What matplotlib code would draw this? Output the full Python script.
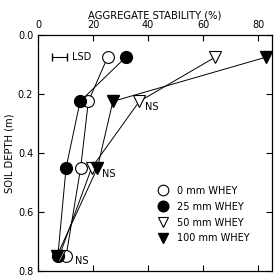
import matplotlib
matplotlib.use('Agg')
import matplotlib.pyplot as plt

# Data
depth = [0.075, 0.225, 0.45, 0.75]
whey_0 = [25.3, 18.3, 15.5, 10.2]
whey_25 = [31.9, 15.3, 10.2, 7.2]
whey_50 = [64.4, 36.8, 19.5, 7.7]
whey_100 = [82.9, 27.2, 21.6, 6.8]

xticks = [0, 20, 40, 60, 80]
yticks = [0.0, 0.2, 0.4, 0.6, 0.8]

plt.rcParams['font.family'] = 'DejaVu Sans'
fig = plt.figure(figsize=(2.76, 2.76), dpi=100)
ax = fig.add_axes([38 / 276, 5 / 276, 234 / 276, 236 / 276])

ms = 8.5
lw = 0.7
ax.plot(whey_0, depth, 'o-', color='black', mfc='white', mec='black', ms=ms, lw=lw, mew=0.8,
        label='0 mm WHEY', zorder=3)
ax.plot(whey_25, depth, 'o-', color='black', mfc='black', ms=ms, lw=lw,
        label='25 mm WHEY', zorder=3)
ax.plot(whey_50, depth, 'v-', color='black', mfc='white', mec='black', ms=ms, lw=lw, mew=0.8,
        label='50 mm WHEY', zorder=3)
ax.plot(whey_100, depth, 'v-', color='black', mfc='black', ms=ms, lw=lw,
        label='100 mm WHEY', zorder=3)

# LSD bar
ax.errorbar([7.8], [0.075], xerr=[2.6], fmt='none', ecolor='black', elinewidth=0.8, capsize=3)
ax.text(12.3, 0.075, 'LSD', fontsize=7, va='center', ha='left')

# NS labels
ax.text(39.0, 0.245, 'NS', fontsize=7, va='center', ha='left')
ax.text(23.2, 0.47, 'NS', fontsize=7, va='center', ha='left')
ax.text(13.5, 0.765, 'NS', fontsize=7, va='center', ha='left')

ax.set_xlim(0, 85)
ax.set_ylim(0.8, 0.0)
ax.set_xticks(xticks)
ax.set_yticks(yticks)
ax.set_yticklabels(['%.1f' % v for v in yticks])
ax.xaxis.tick_top()
ax.xaxis.set_label_position('top')
ax.tick_params(axis='both', direction='in', top=True, bottom=True, left=True, right=True,
               labelsize=7, length=4, width=0.8)
ax.set_xlabel('AGGREGATE STABILITY (%)', fontsize=7.2, labelpad=1)
ax.set_ylabel('SOIL DEPTH (m)', fontsize=7.2, labelpad=2)
for s in ax.spines.values():
    s.set_linewidth(0.9)

leg = ax.legend(loc='lower right', bbox_to_anchor=(0.94, 0.08), frameon=False, fontsize=7,
                handlelength=0.8, handletextpad=1.0, labelspacing=0.6, markerscale=0.9)
for h in leg.legend_handles:
    h.set_linestyle('none')

fig.savefig('out.png', dpi=100)
